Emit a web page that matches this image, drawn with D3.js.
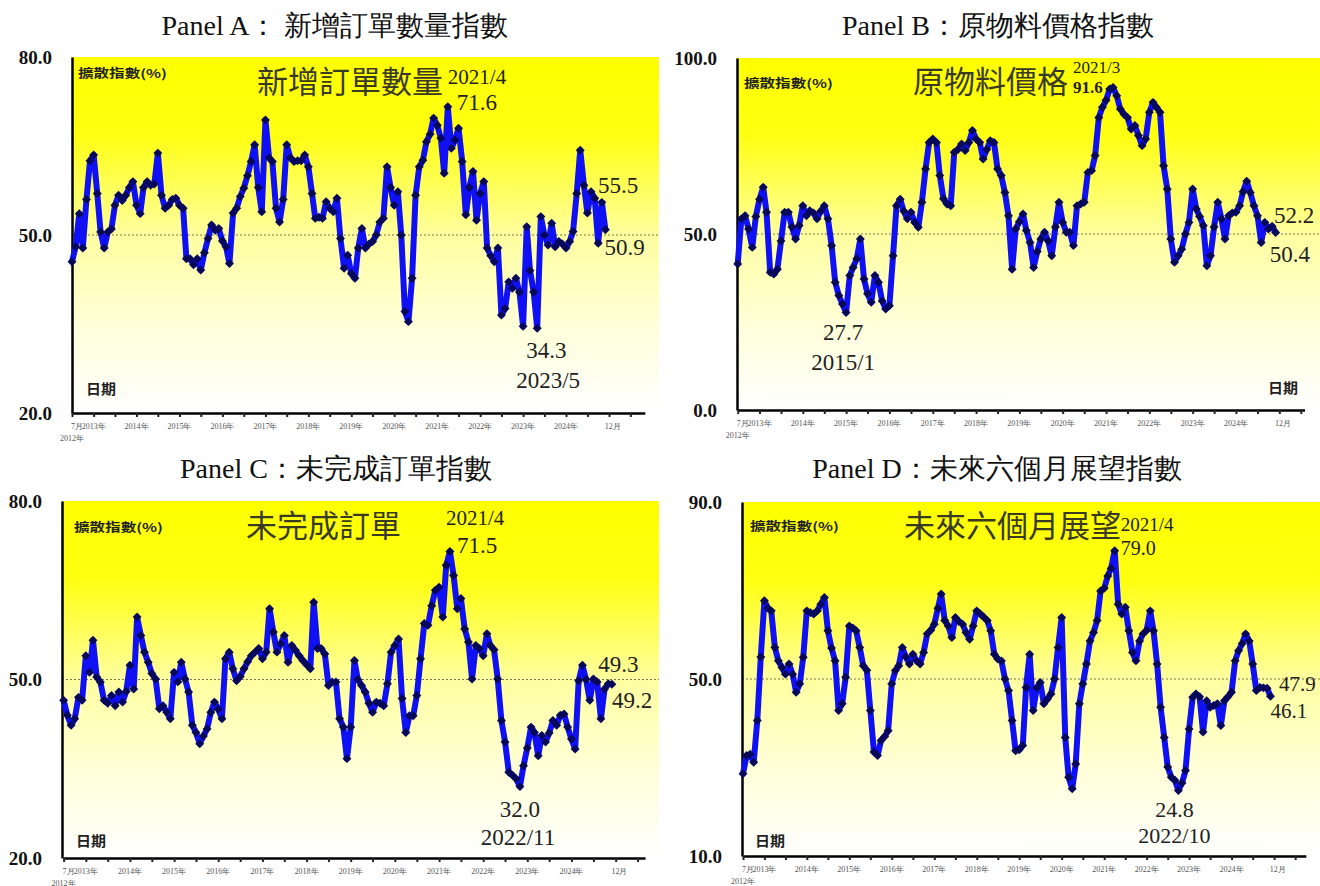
<!DOCTYPE html>
<html>
<head>
<meta charset="utf-8">
<script src="https://cdn.jsdelivr.net/npm/d3@7"></script>
<style>
  body { margin: 0; background: #fff; }
  svg text { font-family: "Liberation Serif", "Times New Roman", serif; }
  svg text.cjk { font-family: "Noto Sans CJK TC", "Noto Sans CJK SC", sans-serif; }
</style>
</head>
<body>
<svg id="chart" width="1320" height="886"></svg>
<script>
// --- Données : indices de diffusion mensuels, 2012/7 -> 2024/12 (150 mois) ---
const months = d3.timeMonth.range(new Date(2012, 6, 1), new Date(2025, 0, 1));

const newOrders = [
  45.5, 48, 53.6, 47.8, 56, 62.5, 63.5, 57, 50.5, 47.8,
  50.5, 51, 55, 56.7, 55.8, 56.7, 58, 59, 55, 53.6,
  58, 59, 58.4, 58.6, 63.8, 56.7, 54.5, 55, 56, 56.2,
  55, 54.5, 46, 46, 45, 46, 44.1, 47, 49.4, 51.7,
  50.8, 51.1, 49, 48, 45.2, 53.7, 54.5, 56.5, 57.9, 60,
  62.4, 65.2, 58, 53.9, 69.4, 63, 62.4, 54.5, 52.2, 56,
  65.2, 63, 62.4, 62.5, 62.5, 63.5, 61.5, 57, 52.8, 53,
  52.8, 55.6, 54.5, 53.9, 56.2, 49.4, 44.4, 46.6, 43.5, 42.7,
  47.8, 51.1, 47.8, 48.5, 48.9, 50, 52.2, 52.8, 61.5, 58,
  55, 57.3, 50, 37.1, 35.4, 42.7, 56.7, 61.5, 62.6, 65.7,
  67, 69.7, 68.5, 66.3, 60.4, 71.6, 64.6, 66, 68, 62.4,
  53.4, 58, 60.7, 52.5, 57, 59, 47.8, 46.5, 45.5, 47.8,
  36.5, 37.6, 42.1, 41, 42.7, 40.4, 34.6, 51.4, 44, 40.4,
  34.3, 53.1, 50, 48.3, 52, 48, 48.9, 48.5, 47.8, 48.9,
  50.6, 57, 64.3, 58.4, 53.7, 57.3, 56.2, 48.6, 55.5, 50.9
];

const rawPrices = [
  41.5, 54.3, 55.2, 51.4, 46.2, 55, 59.9, 63.3, 56.2, 39.1,
  38.6, 40, 48, 56.2, 56.2, 52, 48.6, 52.4, 58, 55.2,
  56.6, 56, 54.3, 56.5, 58, 54.3, 46.7, 36.3, 32.5, 30.1,
  27.7, 38.2, 40.5, 43, 48.6, 37.2, 33, 30.6, 38.2, 36.3,
  31, 28.7, 29.6, 43.8, 58, 59.9, 56.5, 54.3, 56.2, 53.3,
  51.9, 59, 68.5, 76, 77, 76, 66.6, 60, 58.5, 58,
  73.2, 74, 75.6, 73.7, 76, 79.4, 77, 76, 71.3, 74,
  76.5, 76, 68.5, 66.6, 61.8, 55.2, 40, 51.4, 53.5, 55.7,
  51, 47.6, 40.5, 45, 48.6, 50.5, 48, 43.8, 52, 59,
  53.3, 50.5, 50.5, 46.7, 58, 58.5, 59, 67.5, 68, 72.3,
  83.1, 86, 88, 91.2, 91.6, 89.3, 85.5, 84, 83.1, 79.8,
  80.8, 78, 75.1, 77, 84.6, 87.4, 86, 84.6, 69.4, 62.8,
  48.6, 42, 43.8, 45.7, 50, 53.3, 62.8, 57.1, 55, 52.4,
  41, 43.8, 52, 59, 54.3, 48.6, 55.2, 56, 56.2, 58,
  62, 65, 61.8, 58, 55.2, 47.6, 53.3, 51.4, 52.2, 50.4
];

const backlog = [
  46.5, 44, 42.3, 43.4, 47, 46.5, 54, 51.2, 56.6, 50.4,
  49.6, 46.5, 46, 47.3, 45.6, 47.9, 46.2, 48, 52.4, 48.4,
  60.5, 57.4, 54.6, 52.9, 51, 50.1, 45.1, 45.6, 44.5, 43.4,
  51.2, 49.6, 52.9, 50.1, 47.9, 42.3, 41.1, 39.2, 40.5, 41.7,
  44.5, 46.2, 45, 43.4, 53.5, 54.6, 51.8, 49.8, 50.5, 51.8,
  53, 54, 54.6, 55.2, 53.5, 54.6, 61.9, 58, 54.6, 56,
  57.4, 52.9, 55.7, 54.9, 54, 53.2, 52.5, 51.8, 63, 55.2,
  55.2, 54.3, 49, 49.6, 49.6, 43.4, 42, 36.7, 42, 53.2,
  50, 49, 47.9, 46, 44.5, 46.2, 46, 45.6, 49.3, 54.6,
  55.7, 56.8, 46.8, 41.1, 43.9, 43.9, 47.3, 53.5, 59.4, 59.1,
  62.4, 65, 65.5, 60.5, 69.2, 71.5, 67.5, 61.9, 63.6, 58.5,
  56.3, 50.1, 55.7, 55.2, 54, 57.7, 55.7, 55, 50.1, 43.1,
  39.5, 34.4, 33.9, 33.3, 32, 35.5, 38.5, 42, 41.1, 37.2,
  40.6, 39.5, 41, 43.1, 42.3, 44, 44.2, 42, 40, 38.3,
  49.8, 52.4, 50, 46.5, 50.1, 49.6, 43.4, 48.4, 49.3, 49.2
];

const outlook = [
  28.6, 32.7, 33, 31.2, 40.6, 55, 67.7, 66, 65.4, 57.1,
  54.1, 52.6, 51.1, 53.4, 51.1, 47, 48.9, 54.9, 65.4, 65,
  64.7, 65.4, 66.9, 68.4, 60.9, 57, 54.1, 42.9, 44.4, 50.4,
  62, 61.5, 60.9, 57.1, 53, 52, 42.9, 33.5, 32.7, 36.1,
  37, 38.3, 48.9, 51.9, 53, 57.1, 55, 53.4, 55.6, 54.1,
  53.4, 56, 60.2, 61, 62.4, 66, 69.2, 63.2, 62, 59.4,
  63.9, 63, 62.4, 60.5, 59, 62, 65.4, 64.7, 64, 63.2,
  60.9, 55.6, 54.5, 54.1, 50, 47.4, 40.6, 33.8, 34, 35,
  48.1, 55.6, 42.9, 48, 49.2, 44.4, 45.5, 46.6, 50, 57.1,
  63.9, 36.8, 27.8, 25.2, 30.8, 44.4, 48.9, 53.4, 58.6, 60.5,
  63.2, 69.9, 70.5, 73.3, 75, 79, 66.9, 64.7, 66.2, 60.9,
  56, 54.1, 58.6, 60.2, 61, 65.4, 60.9, 53.4, 43.6, 36.8,
  30.1, 27.8, 27.1, 24.8, 26.5, 29.3, 38.7, 45.9, 46.6, 46,
  38, 45.1, 43.6, 44, 44.4, 39.5, 45.1, 46, 47, 54.1,
  56.4, 58, 60.2, 58.6, 53.4, 47.4, 48.1, 48, 47.9, 46.1
];

const panelTitles = ["Panel A： 新增訂單數量指數", "Panel B：原物料價格指數",
                     "Panel C：未完成訂單指數", "Panel D：未來六個月展望指數"];
const innerTitles = ["新增訂單數量", "原物料價格", "未完成訂單", "未來六個月展望"];
const yDomains = [[20, 80], [0, 100], [20, 80], [10, 90]];
const tickYears = [2013, 2014, 2015, 2016, 2017, 2018, 2019, 2020, 2021, 2022, 2023, 2024];

// --- Mise en page des 4 panneaux ---
const layout = [
  { axisX: 72, x0: 72, step: 3.58, nEnd: 160, top: 57, bottom: 413, bgRight: 659, titleX: 335, titleY: 25,
    yTitle: [257, 79], unit: [78, 72], date: [86, 388],
    notes: [ {i: 105, kind: "date", dx: 0, dy: -30, size: 21},
             {i: 105, kind: "val", dx: 9, dy: -4, size: 23},
             {i: 148, kind: "val", dx: -4, dy: -17, size: 23},
             {i: 149, kind: "val", dx: -1, dy: 18, size: 23},
             {i: 130, kind: "val", dx: -11, dy: 22, size: 23},
             {i: 130, kind: "date", dx: -21, dy: 52, size: 23} ] },
  { axisX: 737, x0: 737.7, step: 3.61, nEnd: 157, top: 58, bottom: 410, bgRight: 1320, titleX: 998, titleY: 25,
    yTitle: [913, 79], unit: [744, 82], date: [1268, 387],
    notes: [ {i: 104, kind: "date", dx: -40, dy: -20, size: 17},
             {i: 104, kind: "val", dx: -40, dy: 0, size: 17, bold: true},
             {i: 148, kind: "val", dx: 2, dy: -11, size: 23},
             {i: 149, kind: "val", dx: -6, dy: 22, size: 23},
             {i: 30, kind: "val", dx: -3, dy: 20, size: 23, anchor: "middle"},
             {i: 30, kind: "date", dx: -3, dy: 50, size: 23, anchor: "middle"} ] },
  { axisX: 62, x0: 63.6, step: 3.68, nEnd: 158, top: 501, bottom: 858, bgRight: 659, titleX: 336, titleY: 468,
    yTitle: [246, 523], unit: [74, 526], date: [76, 840],
    notes: [ {i: 105, kind: "date", dx: -4, dy: -34, size: 21},
             {i: 105, kind: "val", dx: 7, dy: -6, size: 23},
             {i: 148, kind: "val", dx: -10, dy: -19, size: 23},
             {i: 149, kind: "val", dx: 0, dy: 16, size: 23},
             {i: 124, kind: "val", dx: 0, dy: 23, size: 23, anchor: "middle"},
             {i: 124, kind: "date", dx: -2, dy: 51, size: 23, anchor: "middle"} ] },
  { axisX: 742, x0: 743, step: 3.54, nEnd: 159, top: 502, bottom: 856, bgRight: 1320, titleX: 997, titleY: 468,
    yTitle: [904, 523], unit: [750, 525], date: [755, 840],
    notes: [ {i: 105, kind: "date", dx: 6, dy: -26, size: 19},
             {i: 105, kind: "val", dx: 6, dy: -3, size: 20},
             {i: 148, kind: "val", dx: 12, dy: -4, size: 21},
             {i: 149, kind: "val", dx: 0, dy: 15, size: 21},
             {i: 123, kind: "val", dx: -4, dy: 19, size: 22, anchor: "middle"},
             {i: 123, kind: "date", dx: -4, dy: 45, size: 22, anchor: "middle"} ] }
];

const svg = d3.select("#chart");

// dégradé jaune -> blanc du fond
const grad = svg.append("defs").append("linearGradient")
  .attr("id", "yellowFade").attr("x1", 0).attr("y1", 0).attr("x2", 0).attr("y2", 1);
grad.append("stop").attr("offset", "0%").attr("stop-color", "#ffff00");
grad.append("stop").attr("offset", "22%").attr("stop-color", "#ffff12");
grad.append("stop").attr("offset", "50%").attr("stop-color", "#ffffa0");
grad.append("stop").attr("offset", "75%").attr("stop-color", "#ffffd8");
grad.append("stop").attr("offset", "100%").attr("stop-color", "#ffffff");

const fmtVal = d3.format(".1f");
const fmtDate = d3.timeFormat("%Y/%-m");

function drawPanel(p, k, values) {
  const g = svg.append("g");
  const x = d3.scaleTime()
    .domain([months[0], d3.timeMonth.offset(months[0], p.nEnd)])
    .range([p.x0, p.x0 + p.nEnd * p.step]);
  const y = d3.scaleLinear().domain(yDomains[k]).range([p.bottom, p.top]);

  // titre du panneau
  svg.append("text").attr("x", p.titleX).attr("y", p.titleY)
    .attr("text-anchor", "middle").attr("dominant-baseline", "central")
    .style("font-size", "28px").style("fill", "#111")
    .text(panelTitles[k]);

  // fond jaune
  g.append("rect").attr("x", p.axisX).attr("y", p.top)
    .attr("width", p.bgRight - p.axisX).attr("height", p.bottom - p.top)
    .attr("fill", "url(#yellowFade)");

  // ligne pointillée à 50
  g.append("line").attr("x1", p.axisX).attr("x2", p.bgRight)
    .attr("y1", y(50)).attr("y2", y(50))
    .attr("stroke", "#77774a").attr("stroke-width", 1).attr("stroke-dasharray", "2,2");

  // axe Y
  const yAxis = g.append("g").attr("transform", `translate(${p.axisX},0)`)
    .call(d3.axisLeft(y).tickValues([yDomains[k][0], 50, yDomains[k][1]])
      .tickSize(0).tickSizeOuter(0).tickPadding(20).tickFormat(fmtVal));
  yAxis.select(".domain").attr("stroke", "#000").attr("stroke-width", 2.5);
  yAxis.selectAll("text").style("font-size", "19px").style("font-weight", "bold")
    .style("fill", "#111").style("font-family", "'Liberation Serif', serif");

  // axe X
  const xAxis = g.append("g").attr("transform", `translate(0,${p.bottom})`)
    .call(d3.axisBottom(x).ticks(d3.timeMonth.every(6)).tickSize(4).tickSizeOuter(0).tickFormat(""));
  xAxis.select(".domain").attr("stroke", "#000").attr("stroke-width", 2.5);
  xAxis.selectAll(".tick line").attr("stroke", "#222").attr("stroke-width", 2);

  const tickStyle = sel => sel.style("font-size", "8px").style("fill", "#555")
    .attr("dominant-baseline", "central");
  g.selectAll(".yr").data(tickYears).enter().append("text")
    .attr("x", d => x(new Date(d, 0, 1))).attr("y", p.bottom + 13)
    .attr("text-anchor", "middle").text(d => d + "年").call(tickStyle);
  g.append("text").attr("x", p.x0 - 1).attr("y", p.bottom + 13)
    .attr("text-anchor", "start").text("7月").call(tickStyle);
  g.append("text").attr("x", p.x0).attr("y", p.bottom + 25)
    .attr("text-anchor", "middle").text("2012年").call(tickStyle);
  g.append("text").attr("x", x(new Date(2025, 1, 1))).attr("y", p.bottom + 13)
    .attr("text-anchor", "middle").text("12月").call(tickStyle);

  // étiquettes internes
  g.append("text").attr("class", "cjk").attr("x", p.yTitle[0]).attr("y", p.yTitle[1])
    .attr("dominant-baseline", "central").style("font-size", "31px").style("fill", "#3a3a22")
    .text(innerTitles[k]);
  g.append("text").attr("class", "cjk").attr("x", p.unit[0]).attr("y", p.unit[1])
    .attr("dominant-baseline", "central").attr("textLength", 89).attr("lengthAdjust", "spacingAndGlyphs")
    .style("font-size", "12px").style("font-weight", "bold").style("fill", "#222")
    .text("擴散指數(%)");
  g.append("text").attr("class", "cjk").attr("x", p.date[0]).attr("y", p.date[1])
    .attr("dominant-baseline", "central").attr("textLength", 30).attr("lengthAdjust", "spacingAndGlyphs")
    .style("font-size", "14px").style("font-weight", "bold").style("fill", "#222")
    .text("日期");

  // série
  const pts = values.map((v, i) => ({ date: months[i], v }));
  const line = d3.line().x(d => x(d.date)).y(d => y(d.v));
  g.append("path").datum(pts).attr("d", line)
    .attr("fill", "none").attr("stroke", "#1010f4").attr("stroke-width", 6)
    .attr("stroke-linejoin", "round");
  const diamond = d3.symbol().type(d3.symbolSquare).size(40);
  g.selectAll(".pt").data(pts).enter().append("path")
    .attr("d", diamond)
    .attr("transform", d => `translate(${x(d.date)},${y(d.v)}) rotate(45)`)
    .attr("fill", "#08085a");

  // annotations (valeurs et dates des extrêmes)
  p.notes.forEach(n => {
    const d = pts[n.i];
    g.append("text")
      .attr("x", x(d.date) + n.dx).attr("y", y(d.v) + n.dy)
      .attr("text-anchor", n.anchor || "start").attr("dominant-baseline", "central")
      .style("font-size", n.size + "px").style("font-weight", n.bold ? "bold" : "normal")
      .style("fill", "#222")
      .text(n.kind === "val" ? fmtVal(d.v) : fmtDate(d.date));
  });
}

[newOrders, rawPrices, backlog, outlook].forEach((vals, k) => drawPanel(layout[k], k, vals));
</script>
</body>
</html>
